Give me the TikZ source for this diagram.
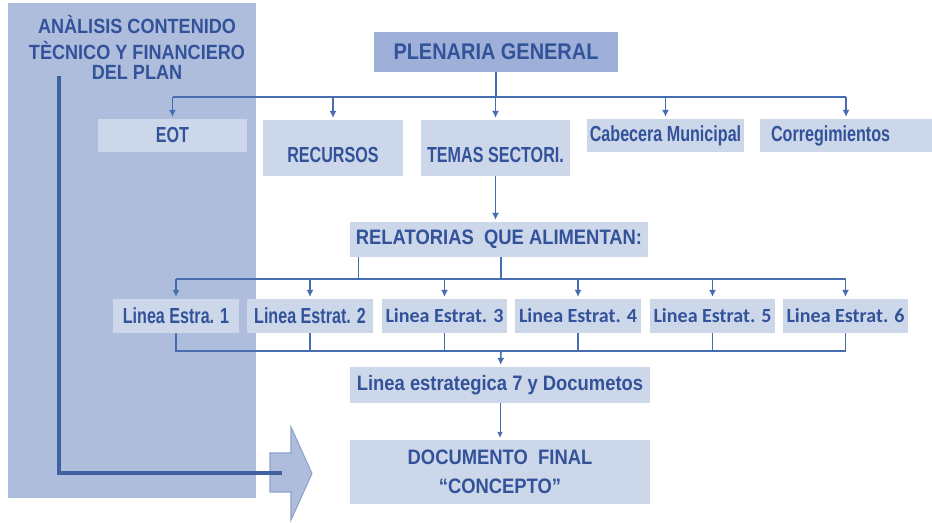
\documentclass[tikz,border=0pt]{standalone}
\usepackage{fontspec}
\setmainfont{Liberation Sans}
\newfontfamily\narrowfont{Liberation Sans}[FakeStretch=0.74]
\newfontfamily\widefont{Liberation Sans}[FakeStretch=0.88]
\newfontfamily\calfont{Carlito}
\usetikzlibrary{arrows.meta,positioning,calc}
\definecolor{planBlue}{RGB}{50,82,154}
\definecolor{lineBlue}{RGB}{70,108,178}
\definecolor{panelBlue}{RGB}{174,189,220}
\definecolor{headBlue}{RGB}{158,176,216}
\definecolor{cellBlue}{RGB}{205,215,234}
\definecolor{edgeBlue}{RGB}{140,160,205}
\tikzset{
  cell/.style={fill=cellBlue, text=planBlue, inner sep=0pt, align=center,
               font=\narrowfont\bfseries\fontsize{12.4}{14}\selectfont},
  calcell/.style={cell, font=\calfont\bfseries\fontsize{11.4}{13}\selectfont},
  bigcell/.style={cell, font=\widefont\bfseries\fontsize{11.9}{16.5}\selectfont},
  headcell/.style={cell, fill=headBlue, font=\widefont\bfseries\fontsize{12.9}{15}\selectfont},
  tallcell/.style={text height=0.86cm, text depth=0.26cm},
  link/.style={draw=lineBlue, line width=0.9pt},
  linkarrow/.style={link, -{Latex[length=1.4mm,width=1.4mm]}, shorten >=1pt},
  thinarrow/.style={draw=lineBlue, line width=0.5pt, -{Latex[length=1.2mm,width=1.1mm]}, shorten >=1pt},
  feedline/.style={draw=lineBlue!90!black, line width=1.8pt}
}

\begin{document}
\begin{tikzpicture}[x=0.02cm, y=-0.02cm]
\useasboundingbox (0,0) rectangle (932,523);
% left panel
\fill[panelBlue] (8,3) rectangle (256,498);
\node[text=planBlue, align=center, inner sep=0pt,
      font=\widefont\bfseries\fontsize{11.7}{14.8}\selectfont] (plantitle) at (137,47)
  {ANÀLISIS CONTENIDO\\TÈCNICO Y FINANCIERO\\[-3.4pt]DEL PLAN};

% top level
\node[headcell, minimum width=4.89cm, minimum height=0.8cm] (plenaria) at (496,52) {PLENARIA GENERAL};
\node[cell, minimum width=2.98cm, minimum height=0.66cm] (eot) at (172.5,135.5) {EOT};
\node[cell, tallcell, minimum width=2.8cm] (recursos) at (333,148) {RECURSOS};
\node[cell, tallcell, minimum width=2.98cm] (temas) at (495.5,148) {TEMAS SECTORI.};
\node[cell, minimum width=3.14cm, minimum height=0.66cm] (cabecera) at (665.5,135.5) {Cabecera Municipal};
\node[cell, text width=3.0cm, inner xsep=0.22cm, align=left, minimum height=0.66cm] (correg) at (846,135.5) {Corregimientos};

\coordinate (topbus) at (496,97);
\draw[link] (plenaria) -- (topbus);
\draw[link] (eot |- topbus) -- (correg |- topbus);
\draw[linkarrow] (eot |- topbus) -- (eot);
\draw[linkarrow] (recursos |- topbus) -- (recursos);
\draw[linkarrow] (temas |- topbus) -- (temas);
\draw[linkarrow] (cabecera |- topbus) -- (cabecera);
\draw[linkarrow] (correg |- topbus) -- (correg);

% relatorias
\node[bigcell, minimum width=5.96cm, minimum height=0.7cm] (relatorias) at (499,239.5) {RELATORIAS\ \ QUE ALIMENTAN:};
\draw[linkarrow] (temas.south) -- (temas.south |- relatorias.north);

\node[cell, minimum width=2.52cm, minimum height=0.68cm] (linea1) at (176,316) {Linea Estra. 1};
\node[cell, minimum width=2.52cm, minimum height=0.68cm] (linea2) at (310,316) {Linea Estrat. 2};
\node[calcell, minimum width=2.5cm, minimum height=0.68cm] (linea3) at (444.5,316) {Linea Estrat. 3};
\node[calcell, minimum width=2.52cm, minimum height=0.68cm] (linea4) at (578,316) {Linea Estrat. 4};
\node[calcell, minimum width=2.5cm, minimum height=0.68cm] (linea5) at (712.5,316) {Linea Estrat. 5};
\node[calcell, minimum width=2.5cm, minimum height=0.68cm] (linea6) at (845.5,316) {Linea Estrat. 6};

\coordinate (midbus) at (501,279);
\coordinate (lowbus) at (501,351);
\draw[link] ($(relatorias.south west)+(9,0)$) -- ++(0,22);
\draw[link] (relatorias.south -| midbus) -- (midbus);
\draw[link] (linea1 |- midbus) -- (linea6 |- midbus);
\draw[linkarrow] (linea1 |- midbus) -- (linea1);
\draw[linkarrow] (linea2 |- midbus) -- (linea2);
\draw[linkarrow] (linea3 |- midbus) -- (linea3);
\draw[linkarrow] (linea4 |- midbus) -- (linea4);
\draw[linkarrow] (linea5 |- midbus) -- (linea5);
\draw[linkarrow] (linea6 |- midbus) -- (linea6);
\draw[link] (linea1.south) -- (linea1.south |- lowbus) -- (linea6.south |- lowbus) -- (linea6.south);
\draw[link] (linea2.south) -- (linea2.south |- lowbus);
\draw[link] (linea3.south) -- (linea3.south |- lowbus);
\draw[link] (linea4.south) -- (linea4.south |- lowbus);
\draw[link] (linea5.south) -- (linea5.south |- lowbus);

% final
\node[bigcell, minimum width=6cm, minimum height=0.72cm] (estrategica) at (500,385) {Linea estrategica 7 y Documetos};
\node[bigcell, minimum width=6cm, minimum height=1.28cm] (final) at (500,472) {DOCUMENTO\ \ FINAL\\“CONCEPTO”};
\draw[linkarrow] (lowbus) -- (estrategica);
\draw[thinarrow] (estrategica) -- (final);

% feed from panel
\fill[panelBlue, draw=edgeBlue, line width=0.6pt] (270,453) -- (291,453) -- (291,427) -- (312,473.5)
  -- (291,520) -- (291,492) -- (270,492) -- cycle;
\coordinate (feedtop) at (59,76);
\coordinate (feedend) at (282,473);
\draw[feedline] (feedtop) |- (feedend);
\end{tikzpicture}
\end{document}
